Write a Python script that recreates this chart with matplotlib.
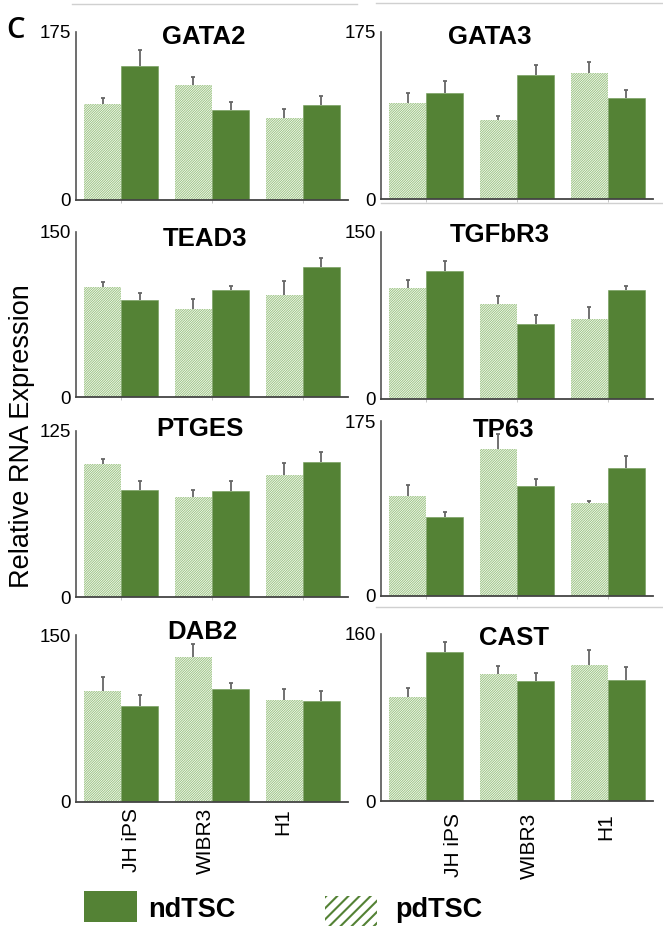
import matplotlib
matplotlib.use("Agg")
import matplotlib.pyplot as plt
from matplotlib.patches import Rectangle
from matplotlib.lines import Line2D
import numpy as np

plt.rcParams['font.family'] = ['Liberation Sans', 'DejaVu Sans']

# ---------------- data ----------------
cell_lines = ['JH iPS', 'WIBR3', 'H1']
genes = ['GATA2', 'GATA3', 'TEAD3', 'TGFbR3', 'PTGES', 'TP63', 'DAB2', 'CAST']
ymax = [175, 175, 150, 150, 125, 175, 150, 160]

pd_vals = {
    'GATA2': [100, 120, 85],
    'GATA3': [100.5, 83, 132],
    'TEAD3': [100.5, 80, 93],
    'TGFbR3': [100, 85, 72],
    'PTGES': [100.5, 75, 91.5],
    'TP63': [100, 147, 93.5],
    'DAB2': [100, 130, 92],
    'CAST': [100, 122, 130],
}
pd_err = {
    'GATA2': [6.5, 8.5, 10],
    'GATA3': [11, 4, 12],
    'TEAD3': [4, 9, 12.5],
    'TGFbR3': [6.5, 7.5, 10.5],
    'PTGES': [3.5, 5.5, 9.5],
    'TP63': [11.5, 15.5, 2],
    'DAB2': [12.5, 11.5, 9.5],
    'CAST': [8.5, 7, 14.5],
}
nd_vals = {
    'GATA2': [140, 93, 99],
    'GATA3': [111.5, 129.5, 105.5],
    'TEAD3': [88, 97.5, 118],
    'TGFbR3': [115, 67, 98],
    'PTGES': [80.5, 79.5, 101.5],
    'TP63': [79, 110, 128.5],
    'DAB2': [86.5, 101.5, 90.5],
    'CAST': [143, 115, 116],
}
nd_err = {
    'GATA2': [16, 9, 9.5],
    'GATA3': [12.5, 10.5, 9],
    'TEAD3': [6.5, 4, 8],
    'TGFbR3': [9, 8.5, 3.5],
    'PTGES': [6.5, 8, 8],
    'TP63': [5.5, 7.5, 11.5],
    'DAB2': [10, 5, 9],
    'CAST': [9.5, 7.5, 12.5],
}

# ---------------- layout (pixels) ----------------
W, H = 663, 932
ND_COLOR = '#548235'
PD_HATCH = '#9cc483'
ERR_COLOR = '#666666'

# (x0, x1, top, bottom) of each axes
boxes = {
    'GATA2': (76, 348, 32, 199.5),
    'GATA3': (381, 653, 32, 199),
    'TEAD3': (76, 348, 232, 397.5),
    'TGFbR3': (381, 653, 232, 398.5),
    'PTGES': (76, 348, 431, 597),
    'TP63': (381, 653, 421, 596),
    'DAB2': (76, 348, 635, 802),
    'CAST': (381, 653, 634, 801),
}
# title centre x and baseline y
title_pos = {
    'GATA2': (204, 44.3), 'GATA3': (489.5, 44.3),
    'TEAD3': (205, 245.7), 'TGFbR3': (500, 241.7),
    'PTGES': (200, 436), 'TP63': (503.5, 436.7),
    'DAB2': (202, 639.3), 'CAST': (513.5, 645),
}
# positions of rotated cell-line labels on the bottom row (data units)
label_pos = {'DAB2': [0.12, 0.93, 1.78], 'CAST': [0.30, 1.14, 1.98]}
label_pad = {'DAB2': 4.5, 'CAST': 8.5}


def fx(p):
    return p / W


def fy(p):
    return 1 - p / H


fig = plt.figure(figsize=(W / 100, H / 100), dpi=100)

bw = 0.407
x = np.arange(len(cell_lines))


def upper_err(ax, xs, vals, errs):
    vals = np.asarray(vals, float)
    tops = vals + np.asarray(errs, float)
    ax.vlines(xs, vals, tops, color=ERR_COLOR, linewidth=1.3, zorder=3)
    ax.plot(xs, tops, linestyle='none', marker='_', markersize=3.2,
            markeredgewidth=1.3, color=ERR_COLOR, zorder=3)


for g, ym in zip(genes, ymax):
    x0, x1, top, bot = boxes[g]
    ax = fig.add_axes([fx(x0), fy(bot), (x1 - x0) / W, (bot - top) / H])
    pdb = ax.bar(x - bw / 2, pd_vals[g], bw, facecolor='white', edgecolor=PD_HATCH,
                 linewidth=0, hatch='/' * 14, zorder=2)
    for p in pdb:
        if hasattr(p, 'set_hatch_linewidth'):
            p.set_hatch_linewidth(0.7)
    ax.bar(x + bw / 2, nd_vals[g], bw, color=ND_COLOR, edgecolor='#6f9a55',
           linewidth=0.4, zorder=2)
    upper_err(ax, x - bw / 2, pd_vals[g], pd_err[g])
    upper_err(ax, x + bw / 2, nd_vals[g], nd_err[g])
    ax.set_xlim(-0.495, 2.495)
    ax.set_ylim(0, ym)
    ax.set_yticks([0, ym])
    ax.set_yticklabels(['0', str(ym)], fontsize=13.5)
    ax.tick_params(axis='y', length=0, pad=3.6)
    for s in ['top', 'right']:
        ax.spines[s].set_visible(False)
    ax.spines['left'].set_color('#555555')
    ax.spines['left'].set_linewidth(1.2)
    ax.spines['bottom'].set_color('#444444')
    ax.spines['bottom'].set_linewidth(1.3)
    if g in label_pos:
        ax.set_xticks(label_pos[g])
        ax.set_xticklabels(cell_lines, rotation=90, fontsize=15, va='top', ha='center')
        ax.tick_params(axis='x', length=0, pad=label_pad[g])
    else:
        ax.set_xticks(x)
        ax.set_xticklabels([])
        ax.tick_params(axis='x', length=2.5, width=0.6, color='#bbbbbb')
    tx, ty = title_pos[g]
    fig.text(fx(tx), fy(ty), g, ha='center', va='baseline', fontsize=18.5,
             fontweight='bold')

# panel letter and shared y label
fig.text(fx(16), fy(37.5), 'C', ha='center', va='baseline', fontsize=21,
         fontfamily=['Open Sans', 'DejaVu Sans'], fontweight='semibold')
fig.text(fx(22), fy(436.5), 'Relative RNA Expression', rotation=90,
         ha='center', va='center', fontsize=19.5)

# faint separator lines of the original composite
for (xa, ya, xb, yb) in [(72, 4, 357, 4), (376, 3, 663, 3),
                         (381, 202.5, 663, 202.5), (376, 607, 663, 607)]:
    fig.add_artist(Line2D([fx(xa), fx(xb)], [fy(ya), fy(yb)], transform=fig.transFigure,
                          color='#d0d0d0', linewidth=1))

# legend
fig.add_artist(Rectangle((fx(84), fy(922)), (137 - 84) / W, (922 - 891) / H,
                         transform=fig.transFigure, facecolor=ND_COLOR, edgecolor='none'))
hp = Rectangle((fx(325), fy(926)), (377 - 325) / W, (926 - 896) / H,
               transform=fig.transFigure, facecolor='white', edgecolor=ND_COLOR,
               linewidth=0, hatch='///')
if hasattr(hp, 'set_hatch_linewidth'):
    hp.set_hatch_linewidth(1.5)
fig.add_artist(hp)
fig.text(fx(148), fy(917), 'ndTSC', ha='left', va='baseline', fontsize=19.5, fontweight='bold')
fig.text(fx(395), fy(917), 'pdTSC', ha='left', va='baseline', fontsize=19.5, fontweight='bold')

fig.savefig('out.png', dpi=100)
